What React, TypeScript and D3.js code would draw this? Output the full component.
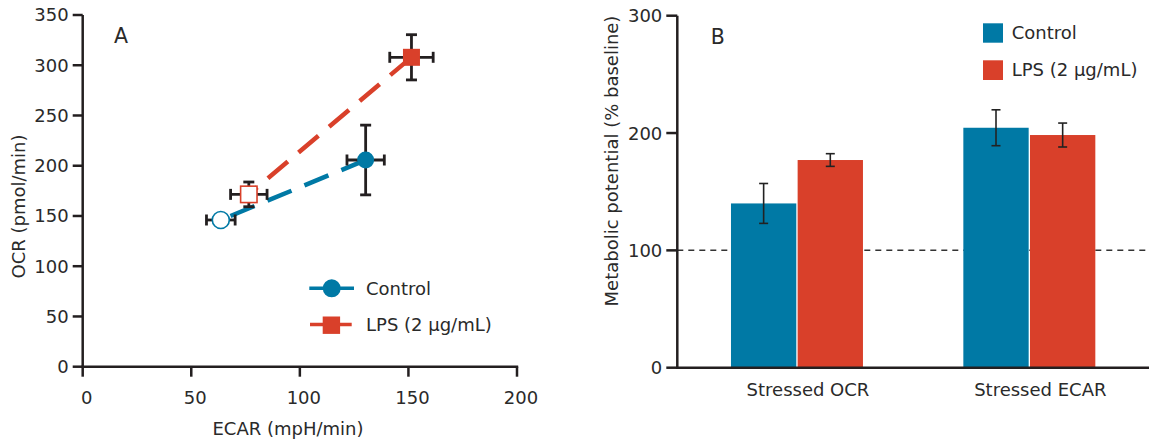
import React from 'react';
import * as d3 from 'd3';

// ---------- Data ----------
const seriesNames = ['Control', 'LPS (2 µg/mL)'];
// Panel A: baseline (open) and stressed (filled) points
const ecarBaseline = [63.6, 76.5];
const ecarBaselineErr = [6.6, 8.4];
const ocrBaseline = [146, 171.5];
const ocrBaselineErr = [5, 12.3];
const ecarStressed = [130.3, 151.4];
const ecarStressedErr = [8.6, 10];
const ocrStressed = [205.7, 307.9];
const ocrStressedErr = [34.7, 22.5];
const xTicksA = [0, 50, 100, 150, 200];
const yTicksA = [0, 50, 100, 150, 200, 250, 300, 350];

// Panel B: metabolic potential
const categoriesB = ['Stressed OCR', 'Stressed ECAR'];
const controlPotential = [140, 204.5];
const controlPotentialErr = [17, 15.3];
const lpsPotential = [177, 198.3];
const lpsPotentialErr = [5.4, 10.2];
const yTicksB = [0, 100, 200, 300];
const baselineRef = 100;

const BLUE = '#0079a5';
const RED = '#d9402a';
const INK = '#231f20';
const TXT = '#2a2a2a';
const FONT = '"DejaVu Sans", Verdana, sans-serif';

export default function App() {
  // ----- Panel A scales -----
  const xA = d3.scaleLinear().domain([0, 200]).range([82.7, 517]);
  const yA = d3.scaleLinear().domain([0, 350]).range([366.7, 15]);

  // ----- Panel B scales -----
  const yB = d3.scaleLinear().domain([0, 300]).range([367.7, 15.7]);
  const xB = d3
    .scaleBand<string>()
    .domain(categoriesB)
    .range([677.3, 1149])
    .paddingInner(0.432)
    .paddingOuter(0.231);
  const inner = d3
    .scaleBand<string>()
    .domain(seriesNames)
    .range([0, xB.bandwidth()])
    .paddingInner(0.02);

  const colors = [BLUE, RED];
  const barValues = [controlPotential, lpsPotential];
  const barErrs = [controlPotentialErr, lpsPotentialErr];

  const capA = 5.5;
  const errA = (cx: number, cy: number, ex: number, ey: number, key: string) => {
    const x0 = xA(cx - ex), x1 = xA(cx + ex);
    const y0 = yA(cy - ey), y1 = yA(cy + ey);
    const px = xA(cx), py = yA(cy);
    return (
      <g key={key} stroke={INK} strokeWidth={2.8} fill="none">
        <line x1={x0} x2={x1} y1={py} y2={py} />
        <line x1={x0} x2={x0} y1={py - capA} y2={py + capA} />
        <line x1={x1} x2={x1} y1={py - capA} y2={py + capA} />
        <line x1={px} x2={px} y1={y0} y2={y1} />
        <line x1={px - capA} x2={px + capA} y1={y0} y2={y0} />
        <line x1={px - capA} x2={px + capA} y1={y1} y2={y1} />
      </g>
    );
  };

  const lineGen = d3
    .line<[number, number]>()
    .x((d) => xA(d[0]))
    .y((d) => yA(d[1]));

  return (
    <svg
      width={1149}
      height={441}
      style={{ position: 'absolute', left: 0, top: 0, background: '#fff' }}
      fontFamily={FONT}
    >
      {/* ================= Panel A ================= */}
      {/* connecting dashed lines */}
      {seriesNames.map((s, i) => (
        <path
          key={'ln' + s}
          d={lineGen([
            [ecarBaseline[i], ocrBaseline[i]],
            [ecarStressed[i], ocrStressed[i]],
          ]) || ''}
          stroke={colors[i]}
          strokeWidth={4.5}
          fill="none"
          strokeDasharray="26,14"
          strokeDashoffset={i === 0 ? 29.5 : 15}
        />
      ))}
      {/* error bars */}
      {seriesNames.map((s, i) =>
        errA(ecarBaseline[i], ocrBaseline[i], ecarBaselineErr[i], ocrBaselineErr[i], 'eb' + i)
      )}
      {seriesNames.map((s, i) =>
        errA(ecarStressed[i], ocrStressed[i], ecarStressedErr[i], ocrStressedErr[i], 'es' + i)
      )}
      {/* markers */}
      <circle cx={xA(ecarBaseline[0])} cy={yA(ocrBaseline[0])} r={8.5} fill="#fff" stroke={BLUE} strokeWidth={1.6} />
      <rect
        x={xA(ecarBaseline[1]) - 8.2}
        y={yA(ocrBaseline[1]) - 8.2}
        width={16.4}
        height={16.4}
        fill="#fff"
        stroke={RED}
        strokeWidth={1.6}
      />
      <circle cx={xA(ecarStressed[0])} cy={yA(ocrStressed[0])} r={8.5} fill={BLUE} />
      <rect
        x={xA(ecarStressed[1]) - 8.5}
        y={yA(ocrStressed[1]) - 8.5}
        width={17}
        height={17}
        fill={RED}
      />

      {/* axes A */}
      <g stroke={INK} strokeWidth={2.5} fill="none">
        <line x1={xA(0)} x2={xA(0)} y1={yA(350)} y2={yA(0) + 1.2} />
        <line x1={xA(0) - 1.2} x2={xA(200) + 1.2} y1={yA(0)} y2={yA(0)} />
        {yTicksA.map((t) => (
          <line key={'yt' + t} x1={xA(0) - 10} x2={xA(0)} y1={yA(t)} y2={yA(t)} />
        ))}
        {xTicksA.map((t) => (
          <line key={'xt' + t} x1={xA(t)} x2={xA(t)} y1={yA(0)} y2={yA(0) + 10} />
        ))}
      </g>
      <g fill={TXT} fontSize={18}>
        {yTicksA.map((t) => (
          <text key={'yl' + t} x={xA(0) - 14} y={yA(t)} dy="0.36em" textAnchor="end">
            {t}
          </text>
        ))}
        {xTicksA.map((t) => (
          <text key={'xl' + t} x={xA(t) + 4} y={404} textAnchor="middle">
            {t}
          </text>
        ))}
        <text x={288} y={435} textAnchor="middle">ECAR (mpH/min)</text>
        <text transform="translate(19,206.5) rotate(-90)" textAnchor="middle" dy="0.36em">
          OCR (pmol/min)
        </text>
        <text x={114} y={43.3} fontSize={20.5}>A</text>
      </g>

      {/* legend A */}
      <g>
        <line x1={309.3} x2={354} y1={288.3} y2={288.3} stroke={BLUE} strokeWidth={3.5} />
        <circle cx={331.7} cy={288.3} r={9} fill={BLUE} />
        <line x1={310} x2={351.7} y1={324.5} y2={324.5} stroke={RED} strokeWidth={3.5} />
        <rect x={322.7} y={316.5} width={17.4} height={17.4} fill={RED} />
        <text x={366} y={288.3} dy="0.36em" fontSize={18} fill={TXT}>{seriesNames[0]}</text>
        <text x={366} y={324.5} dy="0.36em" fontSize={18} fill={TXT}>{seriesNames[1]}</text>
      </g>

      {/* ================= Panel B ================= */}
      <line
        x1={xB.range()[0]}
        x2={1149}
        y1={yB(baselineRef)}
        y2={yB(baselineRef)}
        stroke="#333"
        strokeWidth={1.5}
        strokeDasharray="6,5"
      />
      {categoriesB.map((c, ci) => (
        <g key={'grp' + c} transform={`translate(${xB(c)},0)`}>
          {seriesNames.map((s, si) => (
            <rect
              key={'bar' + s}
              x={inner(s)}
              y={yB(barValues[si][ci])}
              width={inner.bandwidth()}
              height={yB(0) - yB(barValues[si][ci])}
              fill={colors[si]}
            />
          ))}
          {seriesNames.map((s, si) => {
            const cx = (inner(s) || 0) + inner.bandwidth() / 2;
            const v = barValues[si][ci];
            const e = barErrs[si][ci];
            return (
              <g key={'err' + s} stroke="#222" strokeWidth={1.6}>
                <line x1={cx} x2={cx} y1={yB(v + e)} y2={yB(v - e)} />
                <line x1={cx - 4.5} x2={cx + 4.5} y1={yB(v + e)} y2={yB(v + e)} />
                <line x1={cx - 4.5} x2={cx + 4.5} y1={yB(v - e)} y2={yB(v - e)} />
              </g>
            );
          })}
        </g>
      ))}

      {/* axes B */}
      <g stroke={INK} strokeWidth={2.5} fill="none">
        <line x1={xB.range()[0]} x2={xB.range()[0]} y1={yB(300)} y2={yB(0) + 1.2} />
        <line x1={xB.range()[0] - 1.2} x2={1149} y1={yB(0)} y2={yB(0)} />
        {yTicksB.map((t) => (
          <line key={'ybt' + t} x1={xB.range()[0] - 11} x2={xB.range()[0]} y1={yB(t)} y2={yB(t)} />
        ))}
      </g>
      <g fill={TXT} fontSize={18}>
        {yTicksB.map((t) => (
          <text key={'ybl' + t} x={xB.range()[0] - 15} y={yB(t)} dy="0.36em" textAnchor="end">
            {t}
          </text>
        ))}
        {categoriesB.map((c) => (
          <text key={'cl' + c} x={(xB(c) || 0) + xB.bandwidth() / 2 + 11} y={395.7} textAnchor="middle">
            {c}
          </text>
        ))}
        <text transform="translate(611.5,161) rotate(-90)" textAnchor="middle" dy="0.36em">
          Metabolic potential (% baseline)
        </text>
        <text x={710.7} y={44} fontSize={20.5}>B</text>
      </g>

      {/* legend B */}
      <g>
        <rect x={983} y={23.3} width={20} height={19.4} fill={BLUE} />
        <rect x={983} y={60.3} width={20} height={19.7} fill={RED} />
        <text x={1011.7} y={32.3} dy="0.36em" fontSize={18} fill={TXT}>{seriesNames[0]}</text>
        <text x={1011.7} y={70} dy="0.36em" fontSize={18} fill={TXT}>{seriesNames[1]}</text>
      </g>
    </svg>
  );
}
